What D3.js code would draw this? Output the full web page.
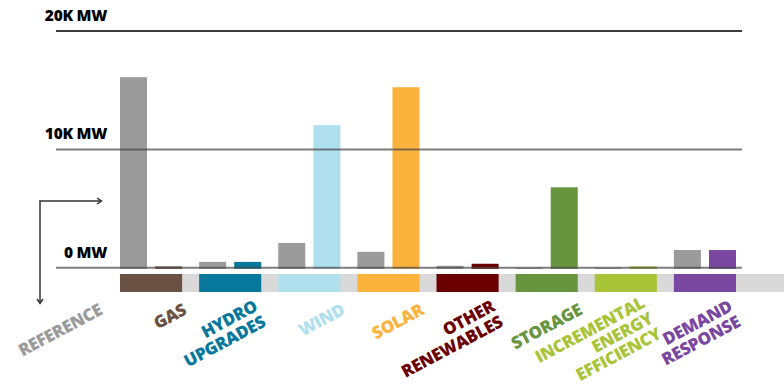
<!DOCTYPE html>
<html>
<head>
<meta charset="utf-8">
<script src="https://cdn.jsdelivr.net/npm/d3@7"></script>
<style>
  body { margin: 0; background: #fff; }
  svg { display: block; font-family: "Open Sans", sans-serif; }
</style>
</head>
<body>
<svg id="chart" width="784" height="386"></svg>
<script>
// categories and values (MW)
var categories = ["Gas", "Hydro Upgrades", "Wind", "Solar", "Other Renewables", "Storage", "Incremental Energy Efficiency", "Demand Response"];
var referenceMW = [16100, 500, 2100, 1350, 170, 0, 0, 1500];
var scenarioMW = [120, 500, 12050, 15250, 340, 6800, 120, 1500];
var labelLines = [["GAS"], ["HYDRO", "UPGRADES"], ["WIND"], ["SOLAR"], ["OTHER", "RENEWABLES"], ["STORAGE"], ["INCREMENTAL", "ENERGY", "EFFICIENCY"], ["DEMAND", "RESPONSE"]];
var colors = ["#6b5143", "#07789b", "#b0e0ee", "#fbb33d", "#6b0000", "#67953f", "#aac43a", "#7a48a0"];
var yTicks = [0, 10000, 20000];
var yTickLabels = ["0 MW", "10K MW", "20K MW"];
var refColor = "#9b9b9b";

var svg = d3.select("#chart");

var yScale = d3.scaleLinear().domain([0, 20000]).range([267.8, 31]);
var xScale = d3.scaleBand().domain(categories).range([120, 736]).paddingInner(0.215).paddingOuter(0);
var xInner = d3.scaleBand().domain(["ref", "scen"]).range([0, xScale.bandwidth()]).paddingInner(0.23);

var rows = categories.map(function (c, i) {
    return { cat: c, ref: referenceMW[i], scen: scenarioMW[i], color: colors[i], lines: labelLines[i] };
});

// grey strip under the groups
svg.append("rect")
    .attr("x", xScale.range()[0])
    .attr("y", 274)
    .attr("width", 784 - xScale.range()[0])
    .attr("height", 18)
    .attr("fill", "#d9d9d9");

svg.selectAll(".band")
    .data(rows)
    .enter().append("rect")
    .attr("class", "band")
    .attr("x", d => xScale(d.cat))
    .attr("y", 274)
    .attr("width", xScale.bandwidth())
    .attr("height", 18)
    .attr("fill", d => d.color);

// bars
var g = svg.selectAll(".grp")
    .data(rows)
    .enter().append("g")
    .attr("class", "grp")
    .attr("transform", d => "translate(" + xScale(d.cat) + ",0)");

g.append("rect")
    .attr("x", xInner("ref"))
    .attr("y", d => yScale(d.ref))
    .attr("width", xInner.bandwidth())
    .attr("height", d => yScale(0) - yScale(d.ref) + 1)
    .attr("fill", refColor);

g.append("rect")
    .attr("x", xInner("scen"))
    .attr("y", d => yScale(d.scen))
    .attr("width", xInner.bandwidth())
    .attr("height", d => yScale(0) - yScale(d.scen) + 1)
    .attr("fill", d => d.color);

// grid lines drawn over the bars
svg.selectAll(".grid")
    .data(yTicks)
    .enter().append("line")
    .attr("class", "grid")
    .attr("x1", 56)
    .attr("x2", 742)
    .attr("y1", d => yScale(d))
    .attr("y2", d => yScale(d))
    .attr("stroke", d => d === 20000 ? "#3c3c3c" : "#474747")
    .attr("stroke-opacity", d => d === 20000 ? 1 : 0.7)
    .attr("stroke-width", 2);

svg.selectAll(".ytick")
    .data(yTicks)
    .enter().append("text")
    .attr("class", "ytick")
    .attr("x", 107)
    .attr("y", d => yScale(d) - 10)
    .attr("text-anchor", "end")
    .attr("font-size", "15.5px")
    .attr("font-weight", 800)
    .attr("letter-spacing", "-0.3px")
    .attr("fill", "#000")
    .text((d, i) => yTickLabels[i]);

// corner arrow
var arrowColor = "#333";
svg.append("path")
    .attr("d", "M101,201 H40 V303")
    .attr("fill", "none")
    .attr("stroke", arrowColor)
    .attr("stroke-width", 1.5);
svg.append("path")
    .attr("d", "M97,198 L101.5,201 L97,204 M37,299 L40,303.5 L43,299")
    .attr("fill", "none")
    .attr("stroke", arrowColor)
    .attr("stroke-width", 1.5);

// rotated category labels, right-aligned lines; last line ends at the band's right edge
var labels = [{ lines: ["REFERENCE"], color: refColor, right: xScale.range()[0] - xScale.step() + xScale.bandwidth() - 5 }]
    .concat(rows.map(d => ({ lines: d.lines, color: d.color, right: xScale(d.cat) + xScale.bandwidth() })));

var deg = -28, angle = deg * Math.PI / 180, lineH = 17.5, capH = 12;
labels.forEach(function (d) {
    var n = d.lines.length;
    var t = svg.append("text")
        .attr("text-anchor", "end")
        .attr("font-size", "17px")
        .attr("font-weight", 800)
        .attr("letter-spacing", "-0.3px")
        .attr("fill", d.color);
    d.lines.forEach(function (l, i) {
        t.append("tspan").attr("x", 0).attr("y", i * lineH).text(l);
    });
    // first line's top-right corner (local 0,-capH) goes to the target point
    var rx = -(-capH) * Math.sin(angle);
    var ry = (-capH) * Math.cos(angle);
    var stepX = -lineH * Math.sin(angle);
    var tx = d.right - stepX * (n - 1) - rx, ty = 303 - 3.5 * (n - 1) - ry;
    t.attr("transform", "translate(" + tx + "," + ty + ") rotate(" + deg + ")");
});
</script>
</body>
</html>
